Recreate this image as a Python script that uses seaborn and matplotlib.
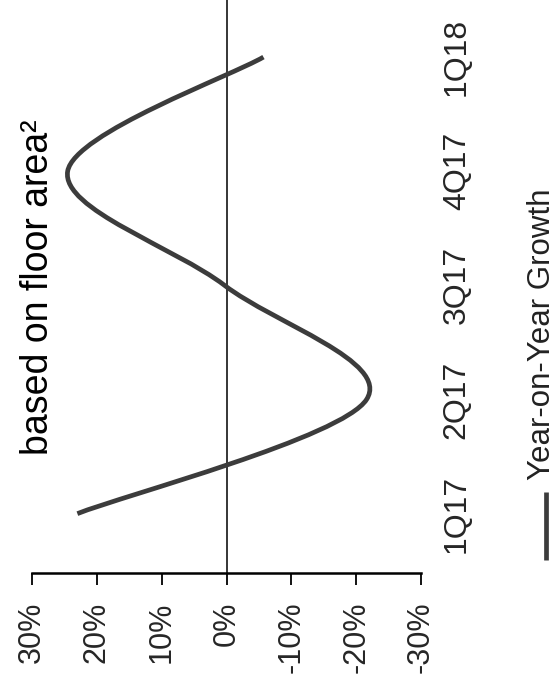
import numpy as np
import matplotlib
matplotlib.use("Agg")
import matplotlib.pyplot as plt
from matplotlib.path import Path
from matplotlib.patches import PathPatch
import seaborn as sns

# ---- data ----
quarters = ["1Q17", "2Q17", "3Q17", "4Q17", "1Q18"]
growth = [23.0, -21.6, 0.3, 24.5, -5.7]          # Year-on-Year Growth, %
value_ticks = [30, 20, 10, 0, -10, -20, -30]
value_tick_labels = ["30%", "20%", "10%", "0%", "-10%", "-20%", "-30%"]
title_text = "based on floor area\u00b2"
legend_label = "Year-on-Year Growth"

sns.set_style("white")
plt.rcParams['font.family'] = ['Liberation Sans', 'DejaVu Sans']

W, H = 556, 691
fig = plt.figure(figsize=(W / 100, H / 100), dpi=100)
ax = fig.add_axes([32 / W, 1 - 573 / H, (421 - 32) / W, 573 / H])

pos = list(range(len(quarters)))

# register data with seaborn (orientation: value on x, category on y)
sns.lineplot(x=growth, y=pos, orient="y", sort=False, ax=ax,
             linewidth=0, legend=False)

# smoothed line (Excel-style Bezier through data points)
pts = np.column_stack([growth, pos]).astype(float)
n = len(pts)
verts = [tuple(pts[0])]
codes = [Path.MOVETO]
for i in range(n - 1):
    p0 = pts[i - 1] if i > 0 else pts[i]
    p1 = pts[i]
    p2 = pts[i + 1]
    p3 = pts[i + 2] if i + 2 < n else pts[i + 1]
    c1 = p1 + (p2 - p0) / 6.0
    c2 = p2 - (p3 - p1) / 6.0
    verts += [tuple(c1), tuple(c2), tuple(p2)]
    codes += [Path.CURVE4] * 3
ax.add_patch(PathPatch(Path(verts, codes), fill=False, edgecolor="#3c3c3c",
                       linewidth=3.4, capstyle="butt", joinstyle="round", zorder=3))

ax.axvline(0, color="black", linewidth=1.1, zorder=2)

ax.set_xlim(30, -30)
ax.set_ylim(-0.52, 4.5)

for s in ["top", "left", "right"]:
    ax.spines[s].set_visible(False)
ax.spines["bottom"].set_color("black")
ax.spines["bottom"].set_linewidth(1.8)

ax.set_xticks(value_ticks)
ax.set_xticklabels(value_tick_labels, rotation=90, fontsize=22)
ax.tick_params(axis="x", direction="out", length=8.6, width=1.3,
               color="black", pad=12, bottom=True)

ax.set_yticks(pos)
ax.set_yticklabels(quarters, rotation=90, fontsize=23, va="center")
ax.yaxis.tick_right()
ax.tick_params(axis="y", length=0, pad=15, right=False, left=False,
               labelright=True, labelleft=False)
ax.set_xlabel("")
ax.set_ylabel("")
ax.grid(False)

# title (rotated)
fig.text(48 / W, 1 - 455 / H, title_text, rotation=90, rotation_mode="anchor",
         ha="left", va="baseline", fontsize=27, color="black")

# legend (rotated)
fig.add_artist(plt.Line2D([546 / W, 546 / W], [1 - 560 / H, 1 - 492 / H],
                          transform=fig.transFigure, color="#3c3c3c",
                          linewidth=3.4, solid_capstyle="butt"))
fig.text(550 / W, 1 - 480 / H, legend_label, rotation=90, rotation_mode="anchor",
         ha="left", va="baseline", fontsize=22.5, color="#222222")

fig.savefig("out.png", dpi=100, facecolor="white")
